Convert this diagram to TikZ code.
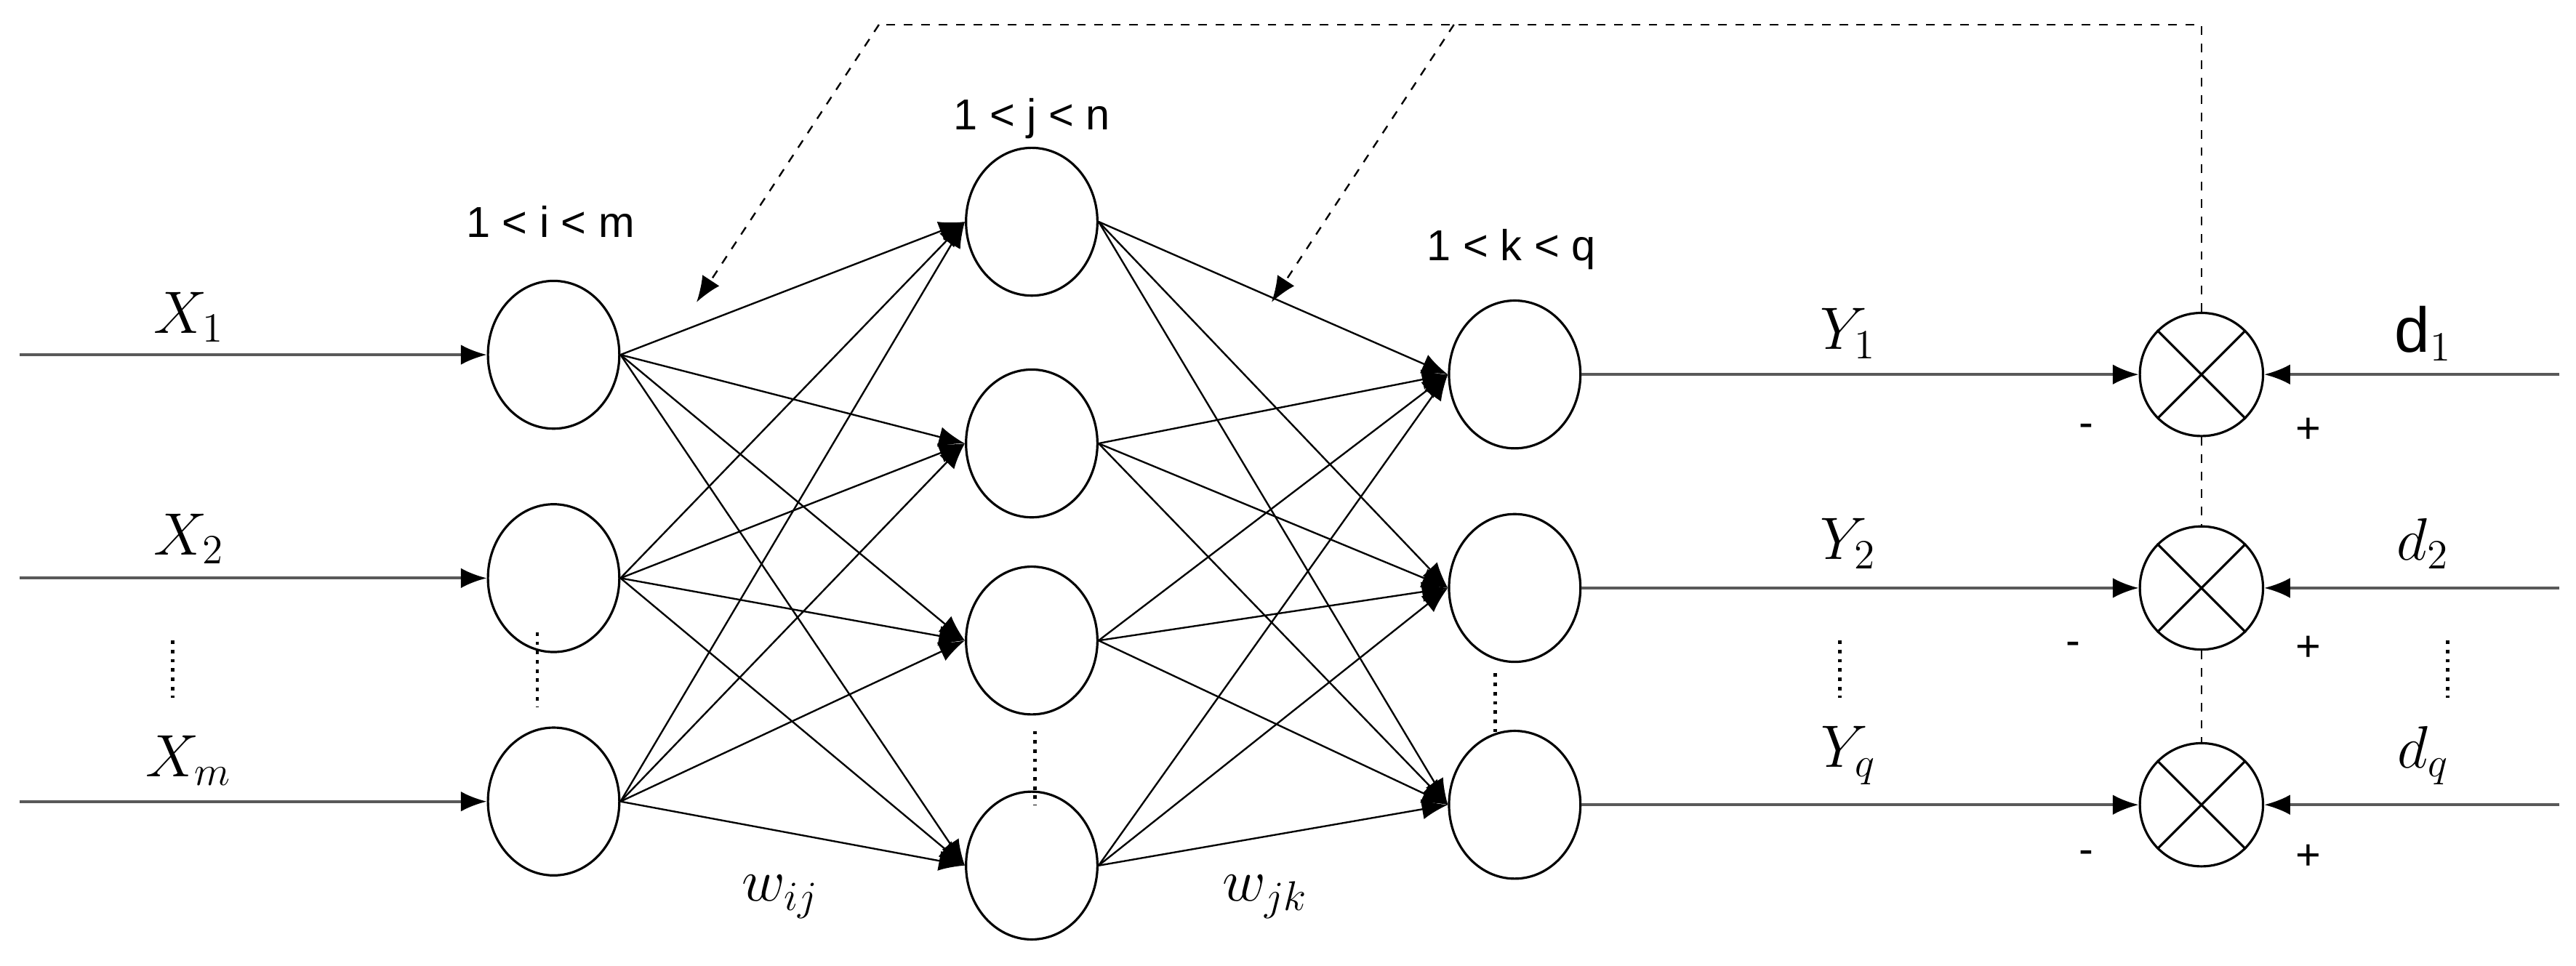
\documentclass[tikz,border=0pt]{standalone}
\usepackage{fontspec}
\setmainfont{Liberation Sans}
\usetikzlibrary{arrows.meta,shapes.geometric}
\begin{document}
\begin{tikzpicture}[x=0.02cm,y=-0.02cm,
  neuron/.style={draw,ellipse,minimum width=1.6cm,minimum height=1.8cm,inner sep=0,line width=0.8pt},
  comp/.style={draw,circle,minimum size=1.5cm,inner sep=0,line width=0.8pt},
  arr/.style={-{Latex[length=9pt,width=7pt]}},
  wire/.style={line width=0.6pt},
  io/.style={-{Latex[length=9pt,width=7pt,color=black]},draw=black!65,line width=1pt},
  fb/.style={dashed,line width=0.6pt},
  lbl/.style={font=\fontsize{15}{17}\selectfont},
  mlbl/.style={font=\fontsize{22}{24}\selectfont},
  vdots/.style={dotted,line width=1.2pt}]
\useasboundingbox (0,0) rectangle (1568,588);
% input layer
\node[neuron] (i1) at (337,216) {};
\node[neuron] (i2) at (337,352) {};
\node[neuron] (i3) at (337,488) {};
% hidden
\node[neuron] (h1) at (628,135) {};
\node[neuron] (h2) at (628,270) {};
\node[neuron] (h3) at (628,390) {};
\node[neuron] (h4) at (628,527) {};
% output
\node[neuron] (o1) at (922,228) {};
\node[neuron] (o2) at (922,358) {};
\node[neuron] (o3) at (922,490) {};
% comparators
\foreach \n/\y in {1/228,2/358,3/490}{
  \node[comp] (c\n) at (1340,\y) {};
  \draw[line width=0.8pt] (c\n.north west) -- (c\n.south east) (c\n.north east) -- (c\n.south west);
}
% connections
\foreach \a in {1,2,3}{\foreach \b in {1,2,3,4}{\draw[wire,arr] (i\a.east) -- (h\b.west);}}
\foreach \a in {1,2,3,4}{\foreach \b in {1,2,3}{\draw[wire,arr] (h\a.east) -- (o\b.west);}}
% inputs
\coordinate (x1) at (12,216); \coordinate (x2) at (12,352); \coordinate (x3) at (12,488);
\foreach \n in {1,2,3}{\draw[io] (x\n) -- (i\n.west);}
\node[mlbl] (lx1) at (115,193) {$X_1$};
\node[mlbl] (lx2) at (115,328) {$X_2$};
\node[mlbl] (lx3) at (115,463) {$X_m$};
\draw[vdots] (105,390) -- (105,425);
% outputs
\foreach \n in {1,2,3}{\draw[io] (o\n.east) -- (c\n.west);}
\node[mlbl] (ly1) at (1125,203) {$Y_1$};
\node[mlbl] (ly2) at (1125,331) {$Y_2$};
\node[mlbl] (ly3) at (1125,460) {$Y_q$};
\draw[vdots] (1120,390) -- (1120,425);
% desired
\coordinate (d1) at (1558,228); \coordinate (d2) at (1558,358); \coordinate (d3) at (1558,490);
\foreach \n in {1,2,3}{\draw[io] (d\n) -- (c\n.east);}
\node[mlbl] (ld1) at (1475,203) {d$_1$};
\node[mlbl] (ld2) at (1475,331) {$d_2$};
\node[mlbl] (ld3) at (1475,460) {$d_q$};
\draw[vdots] (1490,390) -- (1490,425);
% signs
\node[lbl] (m1) at (1270,262) {-}; \node[lbl] (p1) at (1405,262) {+};
\node[lbl] (m2) at (1262,395) {-}; \node[lbl] (p2) at (1405,395) {+};
\node[lbl] (m3) at (1270,522) {-}; \node[lbl] (p3) at (1405,522) {+};
% layer dots
\draw[vdots] (327,385) -- (327,430);
\draw[vdots] (630,445) -- (630,490);
\draw[vdots] (910,410) -- (910,447);
\draw[fb,line width=0.4pt] (c1.south) -- (c2.north) (c2.south) -- (c3.north);
% labels
\node[lbl] (li) at (335,135) {1 < i < m};
\node[lbl] (lj) at (628,72) {1 < j < n};
\node[lbl] (lk) at (920,152) {1 < k < q};
\node[mlbl] (wij) at (475,546) {$w_{ij}$};
\node[mlbl] (wjk) at (770,546) {$w_{jk}$};
% feedback
\coordinate (t1) at (1340,15); \coordinate (t2) at (535,15); \coordinate (t3) at (885,15);
\coordinate (e1) at (424,184); \coordinate (e2) at (774,184);
\draw[fb] (c1.north) -- (t1) -- (t2);
\draw[fb,arr] (t2) -- (e1);
\draw[fb,arr] (t3) -- (e2);
\end{tikzpicture}
\end{document}
